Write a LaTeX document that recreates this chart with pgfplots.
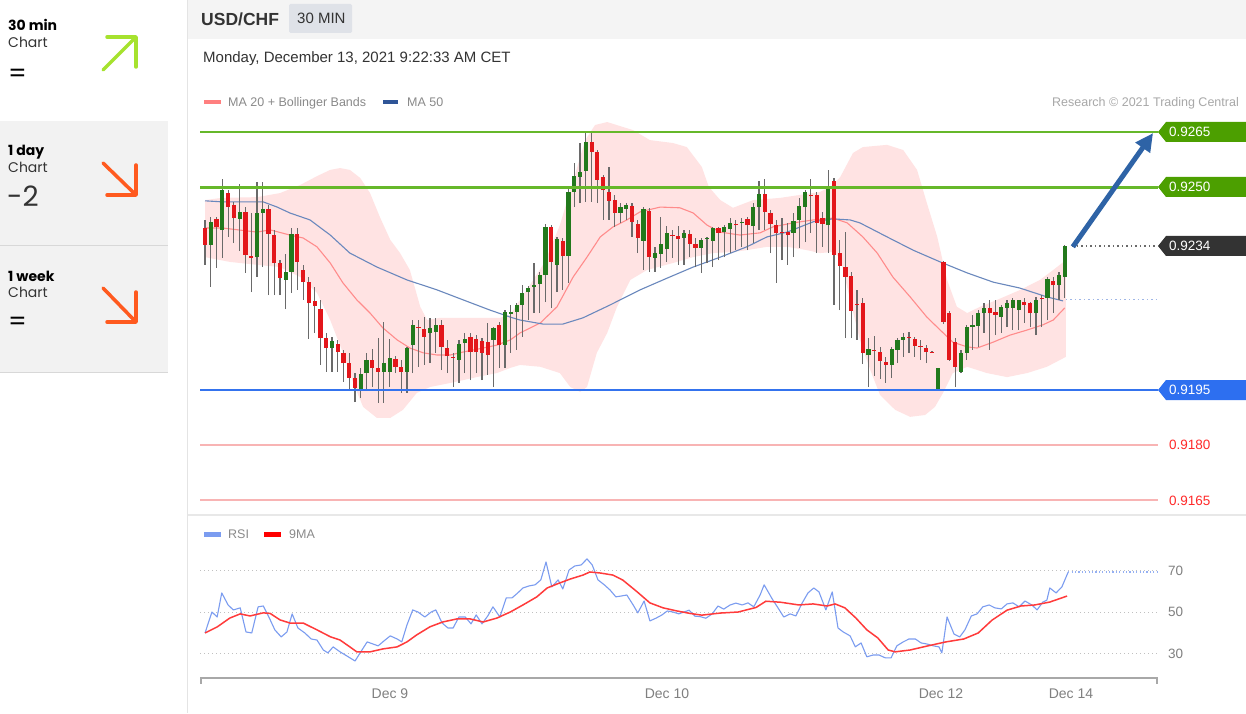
\documentclass[border=0pt]{standalone}
\usepackage{fontspec}
\setmainfont{Liberation Sans}
\newfontfamily\pop{Poppins}
\usepackage{pgfplots}
\usepackage{pgfplotstable}
\pgfplotsset{compat=1.18}
\usetikzlibrary{arrows.meta}

\definecolor{sbgray}{HTML}{F2F2F2}
\definecolor{divc}{HTML}{D8D8D8}
\definecolor{hdrbg}{HTML}{F4F4F4}
\definecolor{tabbg}{HTML}{DFE2E8}
\definecolor{txt}{HTML}{333333}
\definecolor{leggray}{HTML}{8A8A8A}
\definecolor{resgray}{HTML}{A8A8A8}
\definecolor{maline}{HTML}{FF8C8C}
\definecolor{malegend}{HTML}{FF7F7F}
\definecolor{mbline}{HTML}{6A88BD}
\definecolor{mbdot}{HTML}{9FB6E6}
\definecolor{mblegend}{HTML}{2F5597}
\definecolor{bbfill}{HTML}{FFE3E3}
\definecolor{lvgreen}{HTML}{66B82A}
\definecolor{boxgreen}{HTML}{4C9F00}
\definecolor{levelblue}{HTML}{3473EE}
\definecolor{boxblue}{HTML}{2D6FF0}
\definecolor{lvred}{HTML}{F8B4B4}
\definecolor{txtred}{HTML}{FF2A2A}
\definecolor{boxdark}{HTML}{333333}
\definecolor{arrowc}{HTML}{2E63A6}
\definecolor{cgreen}{HTML}{22791C}
\definecolor{cred}{HTML}{E3161B}
\definecolor{wick}{HTML}{6A6A6A}
\definecolor{rsic}{HTML}{7B9CF0}
\definecolor{ninema}{HTML}{FF3B3B}
\definecolor{gridc}{HTML}{C0C0C0}
\definecolor{axc}{HTML}{A8A8A8}
\definecolor{datec}{HTML}{808080}
\definecolor{sbgreen}{HTML}{A6E22E}
\definecolor{sbred}{HTML}{FF5A1F}

% up candles: index open high low close
\pgfplotstableread{
i o h l c
1 0.92343 0.92419 0.92229 0.92406
3 0.92384 0.92522 0.92308 0.92492
6 0.92414 0.92509 0.92327 0.92433
9 0.92310 0.92514 0.92256 0.92430
10 0.92430 0.92514 0.92283 0.92441
14 0.92248 0.92319 0.92169 0.92270
15 0.92270 0.92389 0.92213 0.92373
22 0.92063 0.92093 0.91998 0.92082
27 0.91952 0.92009 0.91927 0.91992
28 0.91995 0.92050 0.91949 0.92031
31 0.91998 0.92134 0.91914 0.92022
32 0.91998 0.92088 0.91957 0.92036
35 0.91998 0.92066 0.91941 0.92063
36 0.92071 0.92139 0.91995 0.92126
39 0.92104 0.92145 0.92022 0.92118
40 0.92107 0.92145 0.92050 0.92126
44 0.92031 0.92085 0.91968 0.92074
45 0.92077 0.92104 0.91995 0.92088
50 0.92085 0.92120 0.91957 0.92118
52 0.92071 0.92166 0.92009 0.92161
53 0.92155 0.92180 0.92050 0.92161
54 0.92161 0.92185 0.92058 0.92180
55 0.92180 0.92234 0.92093 0.92213
56 0.92215 0.92232 0.92139 0.92226
57 0.92229 0.92294 0.92158 0.92234
58 0.92237 0.92270 0.92158 0.92261
59 0.92261 0.92400 0.92188 0.92392
61 0.92289 0.92365 0.92215 0.92359
63 0.92313 0.92501 0.92240 0.92487
64 0.92487 0.92566 0.92446 0.92530
65 0.92528 0.92620 0.92457 0.92541
66 0.92544 0.92647 0.92460 0.92623
72 0.92430 0.92457 0.92403 0.92446
73 0.92441 0.92457 0.92411 0.92452
76 0.92354 0.92446 0.92275 0.92441
78 0.92308 0.92338 0.92270 0.92321
79 0.92319 0.92419 0.92281 0.92346
80 0.92332 0.92395 0.92297 0.92376
83 0.92362 0.92384 0.92289 0.92376
86 0.92335 0.92362 0.92267 0.92357
87 0.92359 0.92365 0.92294 0.92362
88 0.92354 0.92392 0.92283 0.92389
90 0.92378 0.92397 0.92310 0.92392
91 0.92386 0.92416 0.92321 0.92403
93 0.92403 0.92416 0.92338 0.92406
95 0.92395 0.92457 0.92348 0.92446
96 0.92446 0.92517 0.92384 0.92482
102 0.92376 0.92430 0.92310 0.92408
103 0.92411 0.92471 0.92335 0.92449
104 0.92446 0.92492 0.92351 0.92487
108 0.92397 0.92547 0.92321 0.92501
115 0.92044 0.92090 0.91957 0.92060
119 0.92017 0.92066 0.91982 0.92060
120 0.92058 0.92090 0.92022 0.92085
121 0.92085 0.92104 0.92039 0.92093
127 0.91949 0.92009 0.91947 0.92009
131 0.91998 0.92058 0.91995 0.92050
132 0.92050 0.92126 0.92031 0.92120
133 0.92120 0.92153 0.92058 0.92126
134 0.92123 0.92166 0.92066 0.92158
135 0.92158 0.92185 0.92104 0.92172
138 0.92147 0.92180 0.92104 0.92175
139 0.92172 0.92194 0.92120 0.92185
140 0.92172 0.92199 0.92112 0.92194
141 0.92166 0.92194 0.92112 0.92194
144 0.92158 0.92202 0.92098 0.92194
146 0.92199 0.92256 0.92139 0.92251
148 0.92234 0.92270 0.92194 0.92261
149 0.92256 0.92342 0.92199 0.92340
}\upc

% down candles: index open high low close
\pgfplotstableread{
i o h l c
0 0.92389 0.92411 0.92289 0.92343
2 0.92414 0.92419 0.92281 0.92392
4 0.92484 0.92492 0.92365 0.92446
5 0.92452 0.92460 0.92348 0.92416
7 0.92433 0.92446 0.92267 0.92316
8 0.92312 0.92430 0.92215 0.92308
11 0.92441 0.92452 0.92207 0.92373
12 0.92370 0.92384 0.92207 0.92294
13 0.92294 0.92302 0.92207 0.92253
16 0.92373 0.92389 0.92221 0.92297
17 0.92275 0.92289 0.92194 0.92242
18 0.92242 0.92256 0.92088 0.92185
19 0.92191 0.92229 0.92104 0.92177
20 0.92169 0.92194 0.92017 0.92090
21 0.92090 0.92104 0.91998 0.92063
23 0.92074 0.92085 0.91998 0.92052
24 0.92050 0.92058 0.91971 0.92022
25 0.92022 0.92050 0.91949 0.91982
26 0.91982 0.91995 0.91916 0.91954
29 0.92031 0.92060 0.91957 0.92009
30 0.92009 0.92090 0.91914 0.91998
33 0.92033 0.92041 0.91995 0.92012
34 0.92012 0.92031 0.91941 0.91998
37 0.92121 0.92139 0.92012 0.92118
38 0.92115 0.92147 0.92017 0.92093
41 0.92126 0.92139 0.92003 0.92066
42 0.92063 0.92085 0.91995 0.92041
43 0.92039 0.92050 0.91957 0.92036
46 0.92093 0.92104 0.91976 0.92052
47 0.92088 0.92098 0.91995 0.92052
48 0.92082 0.92090 0.91976 0.92050
49 0.92079 0.92131 0.91990 0.92044
51 0.92126 0.92134 0.92009 0.92071
60 0.92392 0.92397 0.92172 0.92297
62 0.92354 0.92362 0.92221 0.92313
67 0.92623 0.92647 0.92460 0.92596
68 0.92596 0.92601 0.92457 0.92520
69 0.92528 0.92533 0.92411 0.92492
70 0.92487 0.92555 0.92411 0.92463
71 0.92465 0.92479 0.92392 0.92430
74 0.92449 0.92457 0.92365 0.92406
75 0.92400 0.92411 0.92321 0.92362
77 0.92435 0.92444 0.92270 0.92310
81 0.92370 0.92384 0.92308 0.92367
82 0.92367 0.92395 0.92289 0.92359
84 0.92373 0.92384 0.92310 0.92346
85 0.92346 0.92362 0.92283 0.92335
89 0.92389 0.92392 0.92302 0.92376
92 0.92400 0.92411 0.92329 0.92397
94 0.92414 0.92419 0.92329 0.92397
97 0.92482 0.92522 0.92384 0.92433
98 0.92430 0.92438 0.92321 0.92400
99 0.92397 0.92411 0.92240 0.92376
100 0.92379 0.92416 0.92302 0.92376
101 0.92378 0.92403 0.92289 0.92370
105 0.92479 0.92522 0.92376 0.92476
106 0.92479 0.92487 0.92321 0.92403
107 0.92416 0.92433 0.92338 0.92400
109 0.92517 0.92525 0.92180 0.92316
110 0.92321 0.92357 0.92166 0.92286
111 0.92283 0.92378 0.92090 0.92256
112 0.92259 0.92270 0.92090 0.92164
113 0.92183 0.92221 0.92085 0.92180
114 0.92185 0.92199 0.92020 0.92050
116 0.92058 0.92096 0.91987 0.92055
117 0.92052 0.92066 0.91979 0.92028
118 0.92025 0.92039 0.91968 0.92017
122 0.92093 0.92107 0.92050 0.92090
123 0.92088 0.92093 0.92039 0.92069
124 0.92069 0.92085 0.92031 0.92066
125 0.92063 0.92071 0.92022 0.92052
126 0.92053 0.92055 0.92050 0.92050
128 0.92297 0.92299 0.92128 0.92134
129 0.92158 0.92164 0.92028 0.92031
130 0.92079 0.92090 0.91957 0.92012
136 0.92172 0.92194 0.92058 0.92158
137 0.92161 0.92194 0.92098 0.92153
142 0.92188 0.92199 0.92131 0.92180
143 0.92185 0.92188 0.92120 0.92158
145 0.92199 0.92207 0.92120 0.92196
147 0.92245 0.92256 0.92158 0.92234
}\dnc

\begin{document}
\begin{tikzpicture}
\begin{scope}[x=1pt,y=1pt]
\fill[white] (0,0) rectangle (1246,713);

% ---------- sidebar ----------
\fill[sbgray] (0,468) rectangle (168,592);
\fill[sbgray] (0,341) rectangle (168,467);
\draw[divc, line width=1.2pt] (0,467.5) -- (168,467.5);
\draw[divc, line width=1.2pt] (0,340.5) -- (168,340.5);
\draw[divc!70, line width=1.5pt] (187.5,0) -- (187.5,713);

\node[anchor=base west, inner sep=0pt, text=black] at (8,682) {\pop\bfseries\fontsize{14}{16}\selectfont 30 min};
\node[anchor=base west, inner sep=0pt, text=txt] at (8,665) {\pop\fontsize{14}{16}\selectfont Chart};
\node[anchor=base west, inner sep=0pt, text=black] at (8,630) {\pop\fontsize{26}{28}\selectfont =};
\node[anchor=base west, inner sep=0pt, text=black] at (8,557) {\pop\bfseries\fontsize{14}{16}\selectfont 1 day};
\node[anchor=base west, inner sep=0pt, text=txt] at (8,540) {\pop\fontsize{14}{16}\selectfont Chart};
\node[anchor=base west, inner sep=0pt, text=txt] at (7,506) {\pop\fontsize{28}{30}\selectfont -2};
\node[anchor=base west, inner sep=0pt, text=black] at (8,431) {\pop\bfseries\fontsize{14}{16}\selectfont 1 week};
\node[anchor=base west, inner sep=0pt, text=txt] at (8,415) {\pop\fontsize{14}{16}\selectfont Chart};
\node[anchor=base west, inner sep=0pt, text=black] at (8,382) {\pop\fontsize{26}{28}\selectfont =};

\draw[sbgreen, line width=3.5pt, line cap=round, line join=round] (103,643) -- (136,676);
\draw[sbgreen, line width=3.5pt, line cap=round, line join=round] (107,676) -- (136,676) -- (136,646);
\draw[sbred, line width=3.5pt, line cap=round, line join=round] (103,550) -- (136,518);
\draw[sbred, line width=3.5pt, line cap=round, line join=round] (107,518) -- (136,518) -- (136,548);
\draw[sbred, line width=3.5pt, line cap=round, line join=round] (103,425) -- (136,391);
\draw[sbred, line width=3.5pt, line cap=round, line join=round] (107,391) -- (136,391) -- (136,421);

% ---------- header ----------
\fill[hdrbg] (188,674) rectangle (1246,713);
\node[anchor=base west, inner sep=0pt, text=txt] at (201,687.3) {\bfseries\fontsize{17.5}{20}\selectfont USD/CHF};
\fill[tabbg, rounded corners=1.5pt] (289,680) rectangle (352,709);
\node[anchor=base west, inner sep=0pt, text=txt] at (297,689) {\fontsize{15}{18}\selectfont 30 MIN};
\node[anchor=base west, inner sep=0pt, text=txt] at (203,650.3) {\fontsize{15}{18}\selectfont Monday, December 13, 2021 9:22:33 AM CET};

% legend
\fill[malegend] (204,609) rectangle (221,613);
\node[anchor=base west, inner sep=0pt, text=leggray] at (228,606) {\fontsize{12.5}{15}\selectfont MA 20 + Bollinger Bands};
\fill[mblegend] (383,609) rectangle (398,613);
\node[anchor=base west, inner sep=0pt, text=leggray] at (407,606) {\fontsize{12.5}{15}\selectfont MA 50};
\node[anchor=base east, inner sep=0pt, text=resgray] at (1239,606) {\fontsize{12.5}{15}\selectfont Research \textcopyright{} 2021 Trading Central};

% separator between panels
\draw[divc!60, line width=2pt] (188,198) -- (1246,198);
\end{scope}

% ---------- main price axis ----------
\begin{axis}[at={(200pt,201.96pt)}, anchor=south west, scale only axis,
  width=958pt, height=393.76pt,
  xmin=-0.87, xmax=165.16, ymin=0.9162, ymax=0.9269,
  hide axis]

% Bollinger band area: upper band left to right, then lower band right to left
\addplot[fill=bbfill, draw=none, forget plot] coordinates {
(0,0.92465) (2.9,0.92471) (9.0,0.92473) (13.0,0.92484) (16.5,0.92506) (19.4,0.92530)
(21.7,0.92547) (23.4,0.92552) (25.1,0.92547) (26.9,0.92525) (28.6,0.92484) (30.3,0.92419)
(32.1,0.92357) (33.8,0.92321) (35.5,0.92275) (37.3,0.92175) (38.5,0.92139) (40.7,0.92145)
(44.2,0.92145) (47.7,0.92145) (51.1,0.92145) (52.9,0.92153) (54.6,0.92194) (56.3,0.92234)
(58.9,0.92297) (61.5,0.92397) (64.1,0.92533) (65.9,0.92628) (67.6,0.92669) (69.7,0.92677)
(74.2,0.92655) (77.1,0.92628) (81.1,0.92620) (83.5,0.92609) (86.1,0.92555) (87.3,0.92501)
(89.3,0.92465) (91.5,0.92444) (95.0,0.92465) (99.7,0.92471) (103.1,0.92479) (106.6,0.92487)
(108.8,0.92506) (110.1,0.92528) (112.3,0.92593) (114.0,0.92609) (118.2,0.92615) (121.0,0.92601)
(123.4,0.92547) (125.1,0.92457) (126.9,0.92365) (128.6,0.92248) (130.3,0.92175) (132.1,0.92158)
(134.3,0.92175) (137.3,0.92194) (141.3,0.92221) (144.7,0.92248) (147.0,0.92275) (149.2,0.92302)
(149.2,0.92039) (145.9,0.92012) (142.5,0.91995) (139.0,0.91984) (135.5,0.91995) (132.1,0.92012)
(129.6,0.91995) (127.9,0.91941) (126.5,0.91903) (124.8,0.91881) (122.2,0.91876) (119.6,0.91895)
(117.0,0.91935) (115.3,0.92003) (113.5,0.92085) (111.8,0.92194) (110.1,0.92308) (108.8,0.92324)
(106.6,0.92321) (104.3,0.92329) (100.9,0.92338) (97.4,0.92338) (93.9,0.92329) (91.5,0.92324)
(88.0,0.92321) (84.6,0.92310) (81.1,0.92294) (76.6,0.92275) (73.7,0.92248) (71.4,0.92175)
(69.7,0.92104) (67.9,0.92050) (66.2,0.91957) (65.0,0.91944) (63.3,0.91957) (61.5,0.91995)
(58.1,0.92012) (54.6,0.92017) (52.9,0.92009) (50.6,0.91995) (47.1,0.91984) (42.5,0.91968)
(39.0,0.91957) (36.7,0.91941) (34.3,0.91895) (32.1,0.91873) (29.8,0.91873) (27.4,0.91903)
(25.7,0.91968) (23.9,0.92050) (21.7,0.92139) (19.4,0.92213) (16.5,0.92256) (13.0,0.92283)
(9.0,0.92289) (4.3,0.92297) (0,0.92310)
} -- cycle;

% MA 20
\addplot[draw=maline, line width=1.1pt] coordinates {
(0,0.92389) (3.1,0.92389) (9.0,0.92378) (11.3,0.92384) (14.7,0.92370) (17.0,0.92362)
(19.4,0.92338) (21.7,0.92294) (23.9,0.92240) (26.3,0.92194) (28.6,0.92158) (30.8,0.92118)
(33.3,0.92085) (35.5,0.92063) (37.8,0.92050) (40.2,0.92044) (42.5,0.92044) (44.7,0.92052)
(48.2,0.92063) (50.6,0.92071) (52.9,0.92085) (54.6,0.92104) (58.1,0.92131) (61.0,0.92175)
(63.8,0.92256) (66.2,0.92310) (68.5,0.92365) (70.7,0.92392) (73.1,0.92411) (75.4,0.92433)
(78.9,0.92446) (82.3,0.92444) (84.6,0.92430) (87.0,0.92397) (89.3,0.92378) (92.7,0.92370)
(96.2,0.92376) (98.4,0.92392) (101.9,0.92403) (105.4,0.92411) (108.8,0.92416) (111.3,0.92403)
(114.0,0.92365) (116.5,0.92321) (119.2,0.92256) (122.2,0.92202) (125.1,0.92147) (127.4,0.92112)
(129.6,0.92079) (132.1,0.92066) (133.8,0.92063) (136.6,0.92079) (139.5,0.92098) (142.5,0.92112)
(145.2,0.92126) (147.0,0.92139) (149.0,0.92172)
};
% MA 50
\addplot[draw=mbline, line width=1.1pt] coordinates {
(0,0.92463) (3.1,0.92460) (10.1,0.92460) (12.5,0.92446) (14.7,0.92430) (18.2,0.92411)
(21.7,0.92370) (25.1,0.92321) (29.8,0.92283) (35.0,0.92248) (40.2,0.92221) (44.7,0.92194)
(49.4,0.92166) (52.9,0.92147) (54.6,0.92139) (58.6,0.92128) (62.0,0.92128) (65.5,0.92145)
(70.2,0.92180) (75.4,0.92221) (80.1,0.92253) (84.6,0.92283) (89.3,0.92310) (93.9,0.92338)
(97.4,0.92365) (100.9,0.92378) (105.4,0.92406) (108.8,0.92414) (111.8,0.92411) (113.5,0.92403)
(118.2,0.92365) (122.7,0.92329) (127.4,0.92297) (132.1,0.92267) (136.6,0.92242) (141.2,0.92226)
(145.9,0.92202) (148.7,0.92191)
};

% wicks
\addplot[draw=none, mark=none, forget plot, error bars/.cd, y dir=plus, y explicit,
  error mark=none, error bar style={line width=1.2pt, draw=wick}]
  table[x=i, y=l, y error expr=\thisrow{h}-\thisrow{l}] {\upc};
\addplot[draw=none, mark=none, forget plot, error bars/.cd, y dir=plus, y explicit,
  error mark=none, error bar style={line width=1.2pt, draw=wick}]
  table[x=i, y=l, y error expr=\thisrow{h}-\thisrow{l}] {\dnc};
% bodies
\addplot[draw=none, mark=none, forget plot, error bars/.cd, y dir=plus, y explicit,
  error mark=none, error bar style={line width=4.2pt, draw=cgreen}]
  table[x=i, y=o, y error expr=\thisrow{c}-\thisrow{o}] {\upc};
\addplot[draw=none, mark=none, forget plot, error bars/.cd, y dir=plus, y explicit,
  error mark=none, error bar style={line width=4.2pt, draw=cred}]
  table[x=i, y=c, y error expr=\thisrow{o}-\thisrow{c}] {\dnc};

% levels
\addplot[draw=lvgreen, line width=2.8pt] coordinates {(-0.87,0.9265) (165.16,0.9265)};
\addplot[draw=lvgreen, line width=2.8pt] coordinates {(-0.87,0.9250) (165.16,0.9250)};
\addplot[draw=levelblue, line width=1.8pt] coordinates {(-0.87,0.9195) (165.16,0.9195)};
\addplot[draw=lvred, line width=1.6pt] coordinates {(-0.87,0.9180) (165.16,0.9180)};
\addplot[draw=lvred, line width=1.6pt] coordinates {(-0.87,0.9165) (165.16,0.9165)};
\addplot[draw=wick, line width=1.2pt, dash pattern=on 1.5pt off 3pt] coordinates {(150.3,0.92340) (165.16,0.92340)};
\addplot[draw=mbdot, line width=1.3pt, dash pattern=on 1.5pt off 3pt] coordinates {(149.2,0.92194) (165.16,0.92194)};

% target arrow
\draw[arrowc, line width=5pt, -{Triangle[length=18pt, width=17pt]}] (axis cs:150.4,0.92338) -- (axis cs:164.3,0.92647);
\end{axis}

\begin{scope}[x=1pt,y=1pt]
% right-hand level labels
\fill[boxgreen] (1158,581) -- (1166,591) -- (1246,591) -- (1246,571) -- (1166,571) -- cycle;
\node[anchor=west, inner sep=0pt, text=white] at (1169,581) {\fontsize{13.5}{16}\selectfont 0.9265};
\fill[boxgreen] (1158,526) -- (1166,536) -- (1246,536) -- (1246,516) -- (1166,516) -- cycle;
\node[anchor=west, inner sep=0pt, text=white] at (1169,526) {\fontsize{13.5}{16}\selectfont 0.9250};
\fill[boxdark] (1158,467) -- (1166,477) -- (1246,477) -- (1246,457) -- (1166,457) -- cycle;
\node[anchor=west, inner sep=0pt, text=white] at (1169,467) {\fontsize{13.5}{16}\selectfont 0.9234};
\fill[boxblue] (1158,323) -- (1166,333) -- (1246,333) -- (1246,313) -- (1166,313) -- cycle;
\node[anchor=west, inner sep=0pt, text=white] at (1169,323) {\fontsize{13.5}{16}\selectfont 0.9195};
\node[anchor=west, inner sep=0pt, text=txtred] at (1169,268) {\fontsize{13.5}{16}\selectfont 0.9180};
\node[anchor=west, inner sep=0pt, text=txtred] at (1169,212) {\fontsize{13.5}{16}\selectfont 0.9165};

% RSI legend
\fill[rsic] (204,176) rectangle (221,181);
\node[anchor=base west, inner sep=0pt, text=leggray] at (228,175) {\fontsize{12.5}{15}\selectfont RSI};
\fill[red] (264,176) rectangle (281,181);
\node[anchor=base west, inner sep=0pt, text=leggray] at (289,175) {\fontsize{12.5}{15}\selectfont 9MA};
\end{scope}

% ---------- RSI panel ----------
\begin{axis}[at={(200pt,35pt)}, anchor=south west, scale only axis,
  width=958pt, height=128.03pt,
  xmin=-0.87, xmax=165.16, ymin=18.4, ymax=80.1,
  hide axis, clip=false]
\addplot[draw=gridc, line width=1pt, dash pattern=on 1pt off 3pt] coordinates {(-0.87,70) (165.16,70)};
\addplot[draw=gridc, line width=1pt, dash pattern=on 1pt off 3pt] coordinates {(-0.87,50) (165.16,50)};
\addplot[draw=gridc, line width=1pt, dash pattern=on 1pt off 3pt] coordinates {(-0.87,30) (165.16,30)};
\addplot[draw=rsic, line width=1.1pt, line join=round] coordinates {
(0.0,40.1) (1.2,50.2) (2.1,47.8) (2.9,59.4) (4.0,53.6) (4.9,51.2) (6.1,52.2) (7.1,40.6)
(8.1,40.1) (9.2,52.7) (10.1,53.1) (11.3,46.4) (12.1,41.6) (13.2,38.2) (14.2,40.6) (15.1,49.3)
(16.1,42.5) (17.3,40.1) (18.4,37.2) (19.4,36.7) (20.5,31.9) (21.3,30.5) (22.2,33.4) (23.4,31.0)
(24.6,29.0) (26.0,26.6) (27.2,31.9) (28.1,35.8) (29.1,34.8) (30.0,33.9) (31.2,36.7) (32.1,38.7)
(33.3,37.2) (34.1,35.8) (35.0,44.0) (36.0,51.2) (36.9,50.2) (38.1,47.8) (39.2,50.2) (40.0,51.2)
(41.1,44.9) (42.1,42.5) (43.0,42.5) (44.0,47.8) (45.1,47.8) (46.1,44.5) (47.0,48.8) (48.0,44.5)
(49.0,48.3) (49.9,52.7) (51.1,47.8) (52.2,57.0) (53.2,57.0) (54.2,59.4) (55.1,61.8) (56.2,62.8)
(57.2,63.3) (58.2,65.7) (59.1,74.3) (60.1,62.3) (61.2,65.7) (62.0,61.3) (63.1,70.5) (64.1,72.4)
(65.2,72.9) (66.2,75.8) (67.1,72.9) (68.1,65.7) (69.2,63.3) (70.2,60.8) (71.2,57.5) (72.3,58.0)
(73.1,58.4) (74.2,53.6) (75.0,49.8) (76.1,55.5) (77.1,45.9) (78.2,47.3) (79.2,48.8) (80.1,50.7)
(81.1,50.2) (82.1,49.3) (83.0,50.2) (83.9,51.1) (84.9,48.2) (85.8,48.0) (86.8,47.2) (87.9,49.3)
(88.9,53.1) (89.9,51.6) (91.0,53.6) (92.0,54.5) (93.1,53.6) (94.1,54.6) (95.1,52.7) (96.2,58.4)
(96.9,63.3) (98.3,56.5) (99.3,52.2) (100.3,47.8) (101.4,49.3) (102.4,48.3) (103.5,54.6) (104.5,59.4)
(105.5,61.8) (106.4,59.9) (107.6,51.2) (108.7,59.9) (109.7,42.5) (110.6,40.6) (111.8,38.7) (112.7,33.4)
(113.7,35.3) (114.7,28.6) (115.8,29.5) (116.8,29.5) (117.9,28.1) (118.9,28.1) (119.9,33.9) (121.0,35.8)
(122.0,37.2) (123.1,37.2) (124.1,35.3) (125.1,34.8) (126.2,33.9) (127.2,33.4) (127.7,30.5) (128.6,47.8)
(129.8,39.6) (130.8,38.2) (131.7,41.6) (132.8,48.3) (133.8,49.3) (134.8,52.7) (135.9,53.6) (136.9,52.2)
(138.0,51.7) (139.0,54.1) (140.0,54.6) (141.1,52.7) (142.1,55.5) (143.3,53.6) (144.2,51.2) (145.2,55.0)
(145.9,55.9) (146.4,61.8) (147.5,59.4) (148.5,62.3) (149.6,69.5)
};
\addplot[draw=ninema, line width=1.5pt] coordinates {
(0,40.1) (2.1,43.0) (4.3,47.3) (6.1,49.3) (7.8,48.3) (10.1,49.8) (11.3,49.5) (13.0,46.4)
(14.7,44.9) (17.0,44.9) (19.4,41.6) (21.7,38.3) (23.4,36.7) (25.1,33.4) (26.3,31.0) (28.6,31.0)
(30.8,32.4) (33.3,33.4) (35.0,35.8) (36.7,39.2) (39.0,43.1) (41.2,45.4) (43.7,46.9) (45.9,46.9)
(48.2,45.4) (50.6,47.3) (52.9,50.2) (55.1,53.6) (57.5,57.5) (59.3,61.8) (61.0,63.7) (63.3,66.1)
(65.5,68.0) (66.7,69.5) (68.5,69.0) (70.7,68.0) (72.4,65.6) (74.9,59.9) (77.1,54.6) (79.4,52.2)
(81.8,50.7) (84.1,49.5) (86.1,48.7) (89.3,49.7) (92.4,50.2) (95.5,52.4) (97.2,55.4) (99.8,54.9)
(102.9,53.6) (105.4,54.1) (107.8,53.1) (109.2,54.1) (110.9,52.2) (112.8,47.3) (114.7,41.6) (116.6,37.7)
(118.4,31.9) (119.6,31.0) (122.2,31.9) (125.3,33.9) (128.4,35.8) (131.5,37.2) (134.0,40.1) (136.4,46.3)
(139.0,51.1) (141.4,53.1) (143.8,53.6) (146.4,55.0) (149.4,57.9)
};
\addplot[draw=rsic!80, line width=1.3pt, dash pattern=on 1.2pt off 2.2pt] coordinates {(149.6,69.5) (165.16,69.5)};
\end{axis}

\begin{scope}[x=1pt,y=1pt]
\node[anchor=west, inner sep=0pt, text=datec] at (1168,142) {\fontsize{13.5}{16}\selectfont 70};
\node[anchor=west, inner sep=0pt, text=datec] at (1168,101) {\fontsize{13.5}{16}\selectfont 50};
\node[anchor=west, inner sep=0pt, text=datec] at (1168,59) {\fontsize{13.5}{16}\selectfont 30};

% time axis
\draw[axc, line width=2pt] (200,35) -- (1158,35);
\draw[axc, line width=1.6pt] (200.8,36) -- (200.8,29);
\draw[axc, line width=1.6pt] (1157.2,36) -- (1157.2,29);
\node[anchor=base, inner sep=0pt, text=datec] at (390,15) {\fontsize{14}{16}\selectfont Dec 9};
\node[anchor=base, inner sep=0pt, text=datec] at (667,15) {\fontsize{14}{16}\selectfont Dec 10};
\node[anchor=base, inner sep=0pt, text=datec] at (941,15) {\fontsize{14}{16}\selectfont Dec 12};
\node[anchor=base, inner sep=0pt, text=datec] at (1071,15) {\fontsize{14}{16}\selectfont Dec 14};

\pgfresetboundingbox
\useasboundingbox (0,0) rectangle (1246,713);
\end{scope}
\end{tikzpicture}
\end{document}
